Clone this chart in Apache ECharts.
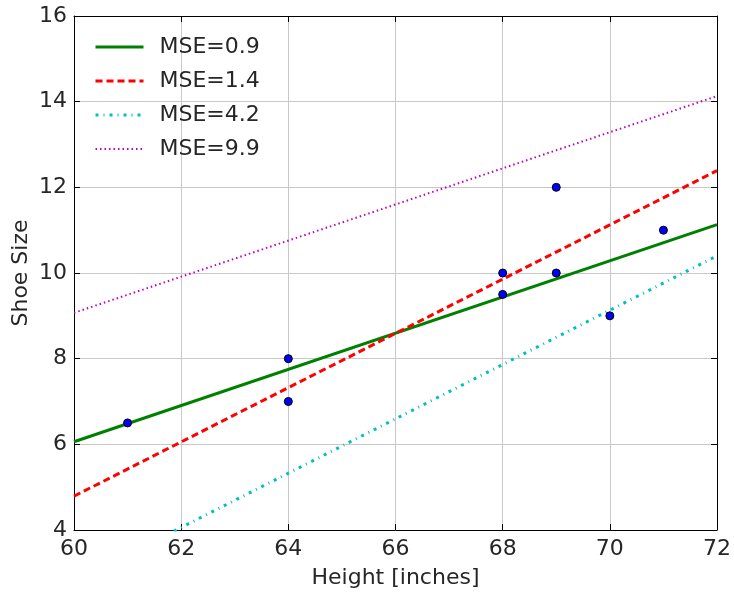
<!DOCTYPE html>
<html><head><meta charset="utf-8">
<script src="https://cdn.jsdelivr.net/npm/echarts@6/dist/echarts.min.js"></script>
<style>html,body{margin:0;padding:0;background:#fff}#c{width:734px;height:592px}</style>
</head><body><div id="c"></div>
<script>
const heights = [61, 64, 64, 68, 68, 69, 69, 70, 71];
const shoeSizes = [6.5, 8, 7, 10, 9.5, 12, 10, 9, 11];
const lineNames = ['MSE=0.9', 'MSE=1.4', 'MSE=4.2', 'MSE=9.9'];
const lineX = [60, 72];
const lineY09 = [6.06, 11.13];
const lineY14 = [4.79, 12.39];
const lineY42 = [2.79, 10.40];
const lineY99 = [9.07, 14.13];
const xTicks = [60, 62, 64, 66, 68, 70, 72];
const yTicks = [4, 6, 8, 10, 12, 14, 16];

const font = 'DejaVu Sans';
const chart = echarts.init(document.getElementById('c'));
const pairs = ys => lineX.map((x, i) => [x, ys[i]]);
const lineStyles = [
  {color: '#008000', width: 3, type: 'solid'},
  {color: '#ff0000', width: 3, type: [7, 4]},
  {color: '#00bfbf', width: 3, type: [3, 5, 1, 5]},
  {color: '#bf00bf', width: 2, type: [1.5, 3]}
];
const lineData = [lineY09, lineY14, lineY42, lineY99];
const axisCommon = {
  axisLine: {show: true, onZero: false, lineStyle: {color: '#000', width: 1}},
  axisTick: {show: true, inside: true, length: 6, lineStyle: {color: '#000'}},
  splitLine: {show: false},
  axisLabel: {show: false}
};
chart.setOption({
  animation: false,
  grid: {left: 74, right: 17, top: 16, bottom: 62, outerBoundsMode: 'none', containLabel: false},
  legend: {
    orient: 'vertical', left: 94, top: 36, padding: 0, itemWidth: 48, itemHeight: 14, itemGap: 12,
    data: lineNames.map((n, i) => ({
      name: n,
      itemStyle: {opacity: 0},
      lineStyle: {color: lineStyles[i].color, width: lineStyles[i].width, type: lineStyles[i].type, opacity: 1}
    })),
    textStyle: {fontFamily: font, fontSize: 22, lineHeight: 22, color: '#262626', padding: [0, 0, 0, 11]}
  },
  xAxis: [{
    type: 'value', min: 60, max: 72, interval: 2,
    name: 'Height [inches]', nameLocation: 'middle', nameGap: 37, nameMoveOverlap: false,
    nameTextStyle: {fontFamily: font, fontSize: 22, color: '#262626'},
    axisLine: {show: true, onZero: false, lineStyle: {color: '#000', width: 1}},
    axisTick: {show: true, inside: true, length: 6, lineStyle: {color: '#000'}},
    axisLabel: {fontFamily: font, fontSize: 22, color: '#262626', margin: 8},
    splitLine: {show: true, lineStyle: {color: '#c8c8c8', width: 1}}
  }, Object.assign({type: 'value', min: 60, max: 72, interval: 2, position: 'top'}, axisCommon)],
  yAxis: [{
    type: 'value', min: 4, max: 16, interval: 2,
    name: 'Shoe Size', nameLocation: 'middle', nameGap: 42, nameMoveOverlap: false,
    nameTextStyle: {fontFamily: font, fontSize: 22, color: '#262626'},
    axisLine: {show: true, onZero: false, lineStyle: {color: '#000', width: 1}},
    axisTick: {show: true, inside: true, length: 6, lineStyle: {color: '#000'}},
    axisLabel: {fontFamily: font, fontSize: 22, color: '#262626', margin: 7},
    splitLine: {show: true, lineStyle: {color: '#c8c8c8', width: 1}}
  }, Object.assign({type: 'value', min: 4, max: 16, interval: 2, position: 'right'}, axisCommon)],
  series: lineNames.map((n, i) => ({
    name: n, type: 'line', data: pairs(lineData[i]), symbol: 'none', clip: true,
    lineStyle: lineStyles[i], itemStyle: {color: lineStyles[i].color}, z: 2
  })).concat([{
    type: 'scatter', data: heights.map((h, i) => [h, shoeSizes[i]]), symbolSize: 8,
    itemStyle: {color: '#0000ff', borderColor: '#000', borderWidth: 1, opacity: 1}, z: 3
  }])
});
</script></body></html>
